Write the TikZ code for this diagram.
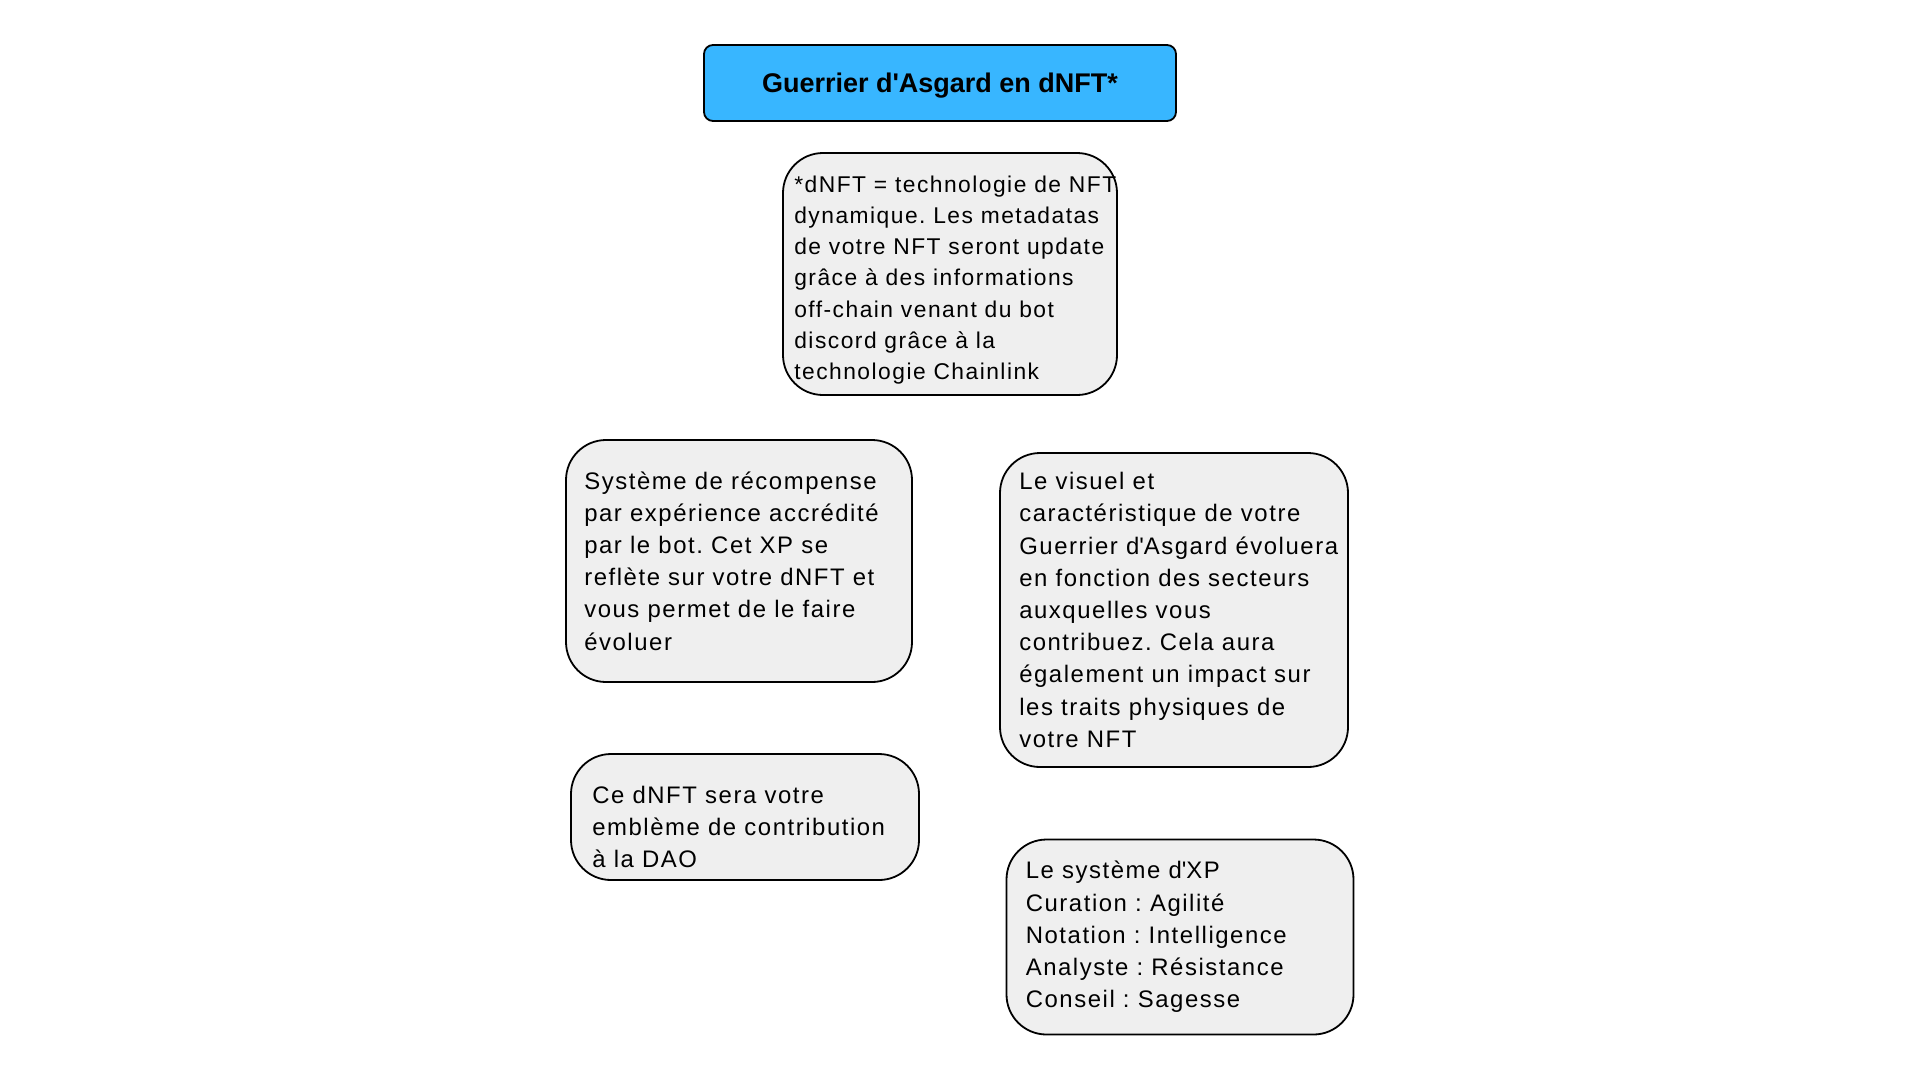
\documentclass[tikz,border=0pt]{standalone}
\usepackage{fontspec}
\setmainfont{Liberation Sans}
\newfontfamily\cardfont{Liberation Sans}[LetterSpace=6.5]
\usetikzlibrary{positioning}
\definecolor{titleblue}{HTML}{38B6FF}
\definecolor{cardgray}{HTML}{EFEFEF}
\frenchspacing
\tikzset{
  card/.style={draw=black, line width=1.8pt, fill=cardgray, rounded corners=40pt, inner sep=0pt},
  cardtext/.style={align=left, inner sep=0pt, font=\cardfont\fontsize{23.9}{32.2}\selectfont},
  titlebox/.style={draw=black, line width=1.8pt, fill=titleblue, rounded corners=9pt,
    font=\fontsize{27}{32}\selectfont\bfseries}
}
\begin{document}
\begin{tikzpicture}[x=1pt,y=-1pt]
  \useasboundingbox (0,0) rectangle (1920,1080);
  \node[titlebox, minimum width=472pt, minimum height=76pt] (title) at (940,83) {};
  \node[font=\fontsize{27}{32}\selectfont\bfseries, inner sep=0pt, yshift=-3pt] (titletext) at (title)
    {Guerrier d\textquotesingle Asgard en dNFT*};

  \node[card, minimum width=334pt, minimum height=242pt] (dnft) at (950,274) {};
  \node[cardtext, font=\cardfont\fontsize{22.8}{31.2}\selectfont, right=12pt of dnft.west, yshift=-6pt] (dnfttext)
    {*dNFT = technologie de NFT\\ dynamique. Les metadatas\\ de votre NFT seront update\\
     grâce à des informations\\ off-chain venant du bot\\ discord grâce à la\\ technologie Chainlink};

  \node[card, minimum width=346pt, minimum height=242pt] (xp) at (739,561) {};
  \node[cardtext, right=19pt of xp.west] (xptext)
    {Système de récompense\\ par expérience accrédité\\ par le bot. Cet XP se\\
     reflète sur votre dNFT et\\ vous permet de le faire\\ évoluer};

  \node[card, minimum width=348pt, minimum height=314pt] (visuel) at (1174,610) {};
  \node[cardtext, right=20pt of visuel.west] (visueltext)
    {Le visuel et\\ caractéristique de votre\\ Guerrier d\textquotesingle Asgard évoluera\\
     en fonction des secteurs\\ auxquelles vous\\ contribuez. Cela aura\\
     également un impact sur\\ les traits physiques de\\ votre NFT};

  \node[card, minimum width=348pt, minimum height=126pt] (embleme) at (745,817) {};
  \node[cardtext, right=22pt of embleme.west, yshift=-10pt] (emblemetext)
    {Ce dNFT sera votre\\ emblème de contribution\\ à la DAO};

  \node[card, minimum width=347pt, minimum height=195pt] (stats) at (1180,937) {};
  \node[cardtext, right=20pt of stats.west] (statstext)
    {Le système d\textquotesingle XP\\ Curation : Agilité\\ Notation : Intelligence\\
     Analyste : Résistance\\ Conseil : Sagesse};
\end{tikzpicture}
\end{document}
